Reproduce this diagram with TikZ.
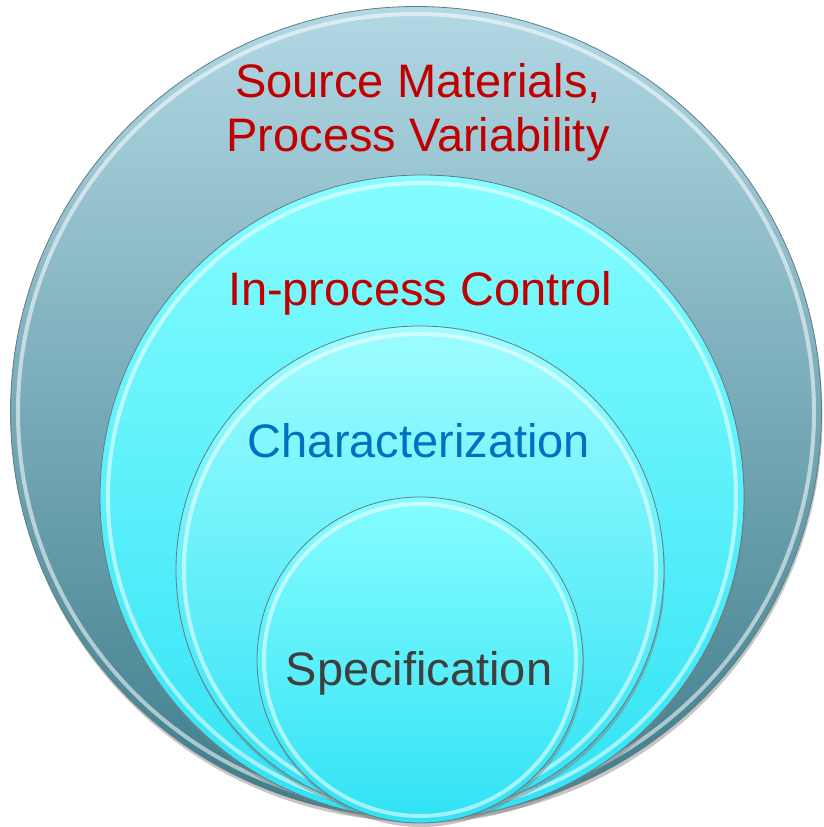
\documentclass[tikz,border=0pt]{standalone}
\usepackage{fontspec}
\setmainfont{Liberation Sans}
\usetikzlibrary{shadows}

\definecolor{outerTop}{HTML}{B2D8E4}
\definecolor{outerBot}{HTML}{3C7C8A}
\definecolor{cyanTop}{HTML}{86FDFF}
\definecolor{cyanBot}{HTML}{30E2F5}
\definecolor{paleTop}{HTML}{9EFDFF}
\definecolor{edgeGrey}{HTML}{5E7E86}
\definecolor{srcRed}{HTML}{C00000}
\definecolor{chrBlue}{HTML}{0070C0}
\definecolor{spcGrey}{HTML}{3F3F3F}

\begin{document}
\begin{tikzpicture}[x=1pt,y=-1pt,
  ring node/.style={circle,draw=edgeGrey,line width=0.8pt,inner sep=0pt,
    drop shadow={shadow xshift=1pt,shadow yshift=-4pt,opacity=0.45}},
  outer ring/.style={ring node,top color=outerTop,bottom color=outerBot},
  cyan ring/.style={ring node,top color=cyanTop,bottom color=cyanBot},
  pale ring/.style={ring node,top color=paleTop,bottom color=cyanBot},
  rim/.style={draw=white,line width=4pt,opacity=0.55},
  ring label/.style={anchor=base,align=center,font=\fontsize{47}{54}\selectfont}]

  \useasboundingbox (0,0) rectangle (823,827);

  \node[outer ring,minimum size=811pt] (src) at (416,412) {};
  \draw[rim] (src.center) circle (398pt);

  \node[cyan ring,minimum size=644pt] (ipc) at (422,497) {};
  \draw[rim] (ipc.center) circle (314pt);

  \node[pale ring,minimum size=488pt] (chr) at (420,570) {};
  \draw[rim] (chr.center) circle (236pt);

  \node[cyan ring,minimum size=326pt] (spc) at (420,660) {};
  \draw[rim] (spc.center) circle (156pt);

  % base of a two-line label is its last line
  \node[ring label,text=srcRed] (srcText) at (418,151) {Source Materials,\\Process Variability};
  \node[ring label,text=srcRed] (ipcText) at (420,305) {In-process Control};
  \node[ring label,text=chrBlue] (chrText) at (419,457) {Characterization};
  \node[ring label,text=spcGrey] (spcText) at (419,685) {Specification};

\end{tikzpicture}
\end{document}
